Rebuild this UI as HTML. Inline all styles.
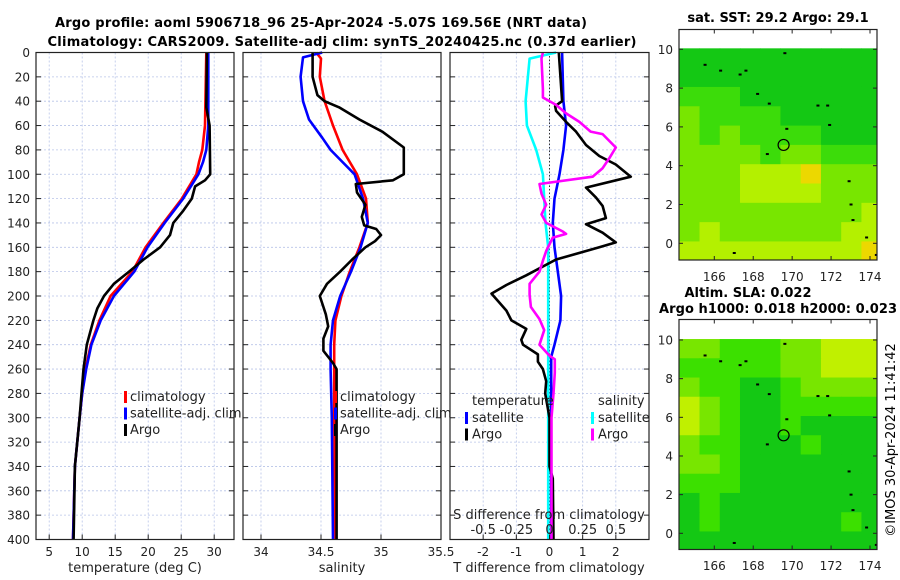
<!DOCTYPE html>
<html><head><meta charset="utf-8"><style>
html,body{margin:0;padding:0;background:#fff;}
svg{display:block;font-family:"DejaVu Sans","Liberation Sans",sans-serif;}
</style></head><body>
<svg id="fig" width="900" height="580" viewBox="0 0 900 580" xmlns="http://www.w3.org/2000/svg">
<text x="321" y="27" font-size="13" font-weight="bold" text-anchor="middle" textLength="532">Argo profile: aoml 5906718_96 25-Apr-2024 -5.07S 169.56E (NRT data)</text>
<text x="342" y="46" font-size="13" font-weight="bold" text-anchor="middle" textLength="589">Climatology: CARS2009. Satellite-adj clim: synTS_20240425.nc (0.37d earlier)</text>
<text x="778" y="22" font-size="13" font-weight="bold" text-anchor="middle">sat. SST: 29.2 Argo: 29.1</text>
<text x="748" y="297" font-size="13" font-weight="bold" text-anchor="middle">Altim. SLA: 0.022</text>
<text x="778" y="313" font-size="13" font-weight="bold" text-anchor="middle" textLength="238">Argo h1000: 0.018 h2000: 0.023</text>
<text x="0" y="0" font-size="13" text-anchor="middle" transform="translate(895,440) rotate(-90)">©IMOS 30-Apr-2024 11:41:42</text>
<g id="plots"></g>
</svg>
<script>
// ---- profile data (depth in m) ----
const tClimDepth = [0,60,80,90,100,120,140,160,180,200,220,240,260,280,300,340,400];
const tClim = [28.8,28.6,28.2,27.7,27.3,25.1,22.3,19.6,17.6,14.3,12.6,11.3,10.5,10.0,9.6,8.9,8.6];
const tSat = [29.1,29.1,28.8,28.3,27.6,25.3,22.5,19.9,17.9,14.8,12.8,11.4,10.6,10.0,9.6,8.9,8.6];
const tArgoDepth = [0,45,60,100,105,110,120,130,140,150,160,170,180,190,200,210,220,230,240,260,280,300,340,400];
const tArgo = [28.9,28.8,29.3,29.4,28.6,27.1,26.6,25.3,23.8,23.3,21.8,19.3,17.1,14.8,13.3,12.3,11.7,11.2,10.7,10.2,9.9,9.6,8.9,8.7];

const sClimDepth = [0,5,20,40,60,80,100,120,140,160,180,200,220,240,260,300,400];
const sClim = [34.46,34.50,34.49,34.53,34.60,34.68,34.80,34.875,34.89,34.82,34.74,34.67,34.62,34.61,34.61,34.61,34.62];
const sSatDepth = [0,4,20,40,55,70,80,90,100,120,140,160,180,200,220,240,260,300,400];
const sSat = [34.51,34.35,34.33,34.35,34.40,34.51,34.58,34.68,34.78,34.85,34.89,34.83,34.75,34.66,34.60,34.58,34.58,34.59,34.60];
const sArgoDepth = [0,20,35,40,45,55,65,78,100,105,108,115,125,135,142,145,150,155,160,170,180,190,200,215,225,235,245,255,260,300,400];
const sArgo = [34.43,34.43,34.47,34.53,34.65,34.82,35.01,35.19,35.19,35.10,34.79,34.80,34.87,34.84,34.86,34.96,35.00,34.95,34.87,34.76,34.66,34.55,34.49,34.54,34.56,34.52,34.52,34.60,34.63,34.63,34.63];

const tdSatDepth = [0,40,60,80,100,120,140,160,180,200,220,240,250,300,400];
const tdSat = [0.38,0.42,0.5,0.42,0.3,0.15,0.1,0.15,0.25,0.35,0.33,0.15,0.05,0.05,0.05];
const tdArgoDepth = [0,40,44,48,57,65,76,85,92,102,111,119,126,136,141,148,156,160,170,183,191,198,212,220,227,236,240,248,254,260,270,280,300,340,350,400];
const tdArgo = [0.28,0.38,0.17,0.2,0.5,0.8,1.1,1.5,2.0,2.45,1.1,1.4,1.6,1.7,1.1,1.6,2.0,1.5,0.2,-0.7,-1.3,-1.75,-1.3,-1.15,-0.7,-0.85,-0.8,-0.35,-0.35,-0.2,-0.1,-0.13,0,0,0.1,0.12];
const sdSatDepth = [0,5,40,60,80,100,120,140,160,180,400];
const sdSat = [0.05,-0.15,-0.18,-0.17,-0.1,-0.05,-0.04,-0.03,-0.01,-0.01,-0.01];
const sdArgoDepth = [0,5,30,37,43,50,57,65,67,78,87,95,102,108,116,125,133,140,147,149,152,163,171,180,190,199,209,219,228,240,249,252,263,280,300,400];
const sdArgo = [-0.05,-0.06,-0.05,-0.05,0.05,0.125,0.225,0.31,0.4,0.5,0.45,0.4,0.325,-0.075,-0.06,-0.025,-0.06,-0.025,0.1,0.125,0.025,-0.025,-0.05,-0.075,-0.15,-0.15,-0.14,-0.075,-0.04,-0.075,0,0.04,0.04,0.03,0.015,0.015];

const depthTicks = [0,20,40,60,80,100,120,140,160,180,200,220,240,260,280,300,320,340,360,380,400];
const tTicks = [5,10,15,20,25,30];
const sTicks = [34,34.5,35,35.5];
const sTickLabels = ["34","34.5","35","35.5"];
const dTicks = [-2,-1,0,1,2];
const sdTicks = [-0.5,-0.25,0,0.25,0.5];
const sdTickLabels = ["-0.5","-0.25","0","0.25","0.5"];

// ---- map data (rows from lat 10 downward, cols from lon 164.2 eastward) ----
const sstLevels = [
[0,0,0,0,0,0,0,0,0,0],
[0,0,0,0,0,0,0,0,0,0],
[1,1,1,0,0,0,0,0,0,0],
[2,1,1,1,1,0,0,0,0,0],
[2,1,2,1,1,1,1,0,0,0],
[2,2,2,2,1,2,2,1,1,1],
[2,2,2,3,3,3,4,2,2,2],
[2,2,2,3,3,3,3,2,2,2],
[2,2,2,2,2,2,2,2,2,3],
[2,3,2,2,2,2,2,2,3,3],
[3,3,3,3,3,3,3,3,3,4]];
const slaLevels = [
[2,2,1,1,1,2,2,3,3,3],
[1,1,1,1,1,2,2,3,3,3],
[2,1,1,0,0,1,2,2,2,2],
[3,2,1,0,0,1,1,1,1,1],
[3,2,1,0,0,1,0,0,0,0],
[2,1,1,0,0,0,1,0,0,0],
[2,2,1,0,0,0,0,0,0,0],
[1,1,1,0,0,0,0,0,0,0],
[0,1,0,0,0,0,0,0,0,0],
[0,1,0,0,0,0,0,0,1,0],
[0,0,0,0,0,0,0,0,0,0]];
const lonTicks = [166,168,170,172,174];
const latTicks = [0,2,4,6,8,10];
const argoLon = 169.56, argoLat = 5.07;
const islandLon = [165.5,166.3,167.3,167.6,168.2,168.8,169.7,169.6,171.3,171.8,171.9,172.9,173.0,173.1,173.8,174.3,167.0,168.7];
const islandLat = [9.2,8.9,8.7,8.9,7.7,7.2,5.9,9.8,7.1,7.1,6.1,3.2,2.0,1.2,0.3,-0.6,-0.5,4.6];

const NS = "http://www.w3.org/2000/svg";
const root = document.getElementById("plots");
function mk(tag, attrs, parent){ const e=document.createElementNS(NS,tag); for(const k in attrs) e.setAttribute(k,attrs[k]); (parent||root).appendChild(e); return e; }
function lin(d0,d1,r0,r1){ return v => r0 + (v-d0)*(r1-r0)/(d1-d0); }
const yD = lin(0,400,52.5,539.5);
const Y0=52.5, Y1=539.5;

function panel(name, x0, x1, xs, gridVals){
  const g = mk("g",{});
  
  
  depthTicks.forEach(d=>{ mk("line",{x1:x0,x2:x1,y1:yD(d),y2:yD(d),stroke:"#b8c4e8","stroke-width":0.8,"stroke-dasharray":"2,2"},g); });
  gridVals.forEach(v=>{ mk("line",{x1:xs(v),x2:xs(v),y1:Y0,y2:Y1,stroke:"#b8c4e8","stroke-width":0.8,"stroke-dasharray":"2,2"},g); });
  depthTicks.forEach(d=>{ mk("line",{x1:x0,x2:x0+5,y1:yD(d),y2:yD(d),stroke:"#222"},g); mk("line",{x1:x1-5,x2:x1,y1:yD(d),y2:yD(d),stroke:"#222"},g); });
  return g;
}
function series(g, name, xs, vals, depths, color){
  const pts = vals.map((v,i)=> xs(v).toFixed(1)+","+yD(depths[i]).toFixed(1)).join(" ");
  const p = mk("polyline",{points:pts,fill:"none",stroke:color,"stroke-width":2.6,"stroke-linejoin":"round"},g);
  
  
}
function frame(g,x0,x1){ mk("rect",{x:x0,y:Y0,width:x1-x0,height:Y1-Y0,fill:"none",stroke:"#222","stroke-width":1.2},g); }
function txt(g, s, x, y, opts){ const t=mk("text",Object.assign({x:x,y:y,"font-size":12,fill:"#222"},opts||{}),g); t.textContent=s; return t; }

// depth labels
const yl = mk("g",{});


depthTicks.forEach(d=>{ txt(yl,String(d),30,yD(d)+4.5,{"text-anchor":"end"}); });

// Panel 1 temperature
const xT = lin(3,33,36,234);
const g1 = panel("temperature-panel",36,234,xT,tTicks);
series(g1,"temp-climatology-line",xT,tClim,tClimDepth,"#ff0000");
series(g1,"temp-satellite-line",xT,tSat,tClimDepth,"#0000ff");
series(g1,"temp-argo-line",xT,tArgo,tArgoDepth,"#000");
frame(g1,36,234);
tTicks.forEach(v=>{ mk("line",{x1:xT(v),x2:xT(v),y1:Y1,y2:Y1-5,stroke:"#222"},g1); txt(g1,String(v),xT(v),556,{"text-anchor":"middle"}); });
txt(g1,"temperature (deg C)",135,572,{"text-anchor":"middle","font-size":13});
function legend(g,x,rows){ rows.forEach((r,i)=>{ const y=401+i*16.5; mk("rect",{x:x-6,y:y-10,width:3,height:12,fill:r[1]},g); const t=txt(g,r[0],x,y,{"font-size":13});   }); }
legend(g1,130,[["climatology","#ff0000"],["satellite-adj. clim","#0000ff"],["Argo","#000"]]);

// Panel 2 salinity
const xS = lin(33.85,35.5,243,441);
const g2 = panel("salinity-panel",243,441,xS,[34,34.5,35]);
series(g2,"sal-climatology-line",xS,sClim,sClimDepth,"#ff0000");
series(g2,"sal-satellite-line",xS,sSat,sSatDepth,"#0000ff");
series(g2,"sal-argo-line",xS,sArgo,sArgoDepth,"#000");
frame(g2,243,441);
sTicks.forEach((v,i)=>{ mk("line",{x1:xS(v),x2:xS(v),y1:Y1,y2:Y1-5,stroke:"#222"},g2); txt(g2,sTickLabels[i],xS(v),556,{"text-anchor":"middle"}); });
txt(g2,"salinity",342,572,{"text-anchor":"middle","font-size":13});
legend(g2,340,[["climatology","#ff0000"],["satellite-adj. clim","#0000ff"],["Argo","#000"]]);

// Panel 3 differences
const xD = lin(-3,3,450,649);
const xSD = lin(-0.75,0.75,450,649);
const g3 = panel("difference-panel",450,649,xD,dTicks);
mk("line",{x1:xD(0),x2:xD(0),y1:Y0,y2:Y1,stroke:"#333","stroke-width":1,"stroke-dasharray":"1.5,2"},g3);
series(g3,"sdiff-satellite-line",xSD,sdSat,sdSatDepth,"#00ffff");
series(g3,"tdiff-satellite-line",xD,tdSat,tdSatDepth,"#0000ff");
series(g3,"tdiff-argo-line",xD,tdArgo,tdArgoDepth,"#000");
series(g3,"sdiff-argo-line",xSD,sdArgo,sdArgoDepth,"#ff00ff");
frame(g3,450,649);
dTicks.forEach(v=>{ mk("line",{x1:xD(v),x2:xD(v),y1:Y1,y2:Y1-5,stroke:"#222"},g3); txt(g3,String(v),xD(v),556,{"text-anchor":"middle"}); });
sdTicks.forEach((v,i)=>{ txt(g3,sdTickLabels[i],xSD(v),534,{"text-anchor":"middle","font-size":13}); });
txt(g3,"S difference from climatology",549,519,{"text-anchor":"middle","font-size":13});
txt(g3,"T difference from climatology",549,572,{"text-anchor":"middle","font-size":13});
txt(g3,"temperature",472,405,{"font-size":13});
txt(g3,"salinity",598,405,{"font-size":13});
[["satellite","#0000ff",472],["Argo","#000",472]].forEach((r,i)=>{ const y=422+i*16.5; mk("rect",{x:r[2]-7,y:y-10,width:3,height:12,fill:r[1]},g3); txt(g3,r[0],r[2],y,{"font-size":13}); });
[["satellite","#00ffff",598],["Argo","#ff00ff",598]].forEach((r,i)=>{ const y=422+i*16.5; mk("rect",{x:r[2]-7,y:y-10,width:3,height:12,fill:r[1]},g3); txt(g3,r[0],r[2],y,{"font-size":13}); });

// Maps
const xLon = lin(166,174,714.3,870);
const sstColors = ["#14c814","#3cdc0a","#78e600","#b4f000","#ecd800"];
const slaColors = ["#14c814","#3ce000","#78e600","#c0f000"];
function map(name, levels, colors, boxTop, boxBot, lat0y, lat10y, labelY){
  const yLat = lin(0,10,lat0y,lat10y);
  const g = mk("g",{});
  
  
  const clipId = name+"-clip";
  const cp = mk("clipPath",{id:clipId},g);
  mk("rect",{x:679,y:boxTop,width:198,height:boxBot-boxTop},cp);
  const cg = mk("g",{"clip-path":"url(#"+clipId+")"},g);
  const nR = levels.length, nC = levels[0].length;
  const lonA=164.2, lonB=174.6, latA=10.05, latB=-0.9;
  for(let r=0;r<nR;r++) for(let c=0;c<nC;c++){
    const la1 = latA-(latA-latB)*r/nR, la2 = latA-(latA-latB)*(r+1)/nR;
    const lo1 = lonA+(lonB-lonA)*c/nC, lo2 = lonA+(lonB-lonA)*(c+1)/nC;
    const cell = mk("rect",{x:xLon(lo1),y:yLat(la1),width:xLon(lo2)-xLon(lo1)+0.5,height:yLat(la2)-yLat(la1)+0.5,fill:colors[levels[r][c]]},cg);
    
    
  }
  islandLon.forEach((lo,i)=>{ mk("rect",{x:xLon(lo)-1,y:yLat(islandLat[i])-1,width:3,height:2,fill:"#000"},cg); });
  const ci = mk("circle",{cx:xLon(argoLon),cy:yLat(argoLat),r:5.5,fill:"none",stroke:"#000","stroke-width":1.2},g);
  
  
  mk("rect",{x:679,y:boxTop,width:198,height:boxBot-boxTop,fill:"none",stroke:"#222","stroke-width":1.2},g);
  lonTicks.forEach(v=>{ mk("line",{x1:xLon(v),x2:xLon(v),y1:boxBot,y2:boxBot-4,stroke:"#222"},g); mk("line",{x1:xLon(v),x2:xLon(v),y1:boxTop,y2:boxTop+4,stroke:"#222"},g); txt(g,String(v),xLon(v),labelY,{"text-anchor":"middle","font-size":12}); });
  latTicks.forEach(v=>{ mk("line",{x1:679,x2:683,y1:yLat(v),y2:yLat(v),stroke:"#222"},g); mk("line",{x1:873,x2:877,y1:yLat(v),y2:yLat(v),stroke:"#222"},g); txt(g,String(v),673,yLat(v)+4.5,{"text-anchor":"end","font-size":12}); });
}
map("sst-map",sstLevels,sstColors,29.5,260,243.3,49.3,281);
map("sla-map",slaLevels,slaColors,319.5,549.5,533.3,340,570);
</script>
</body></html>
